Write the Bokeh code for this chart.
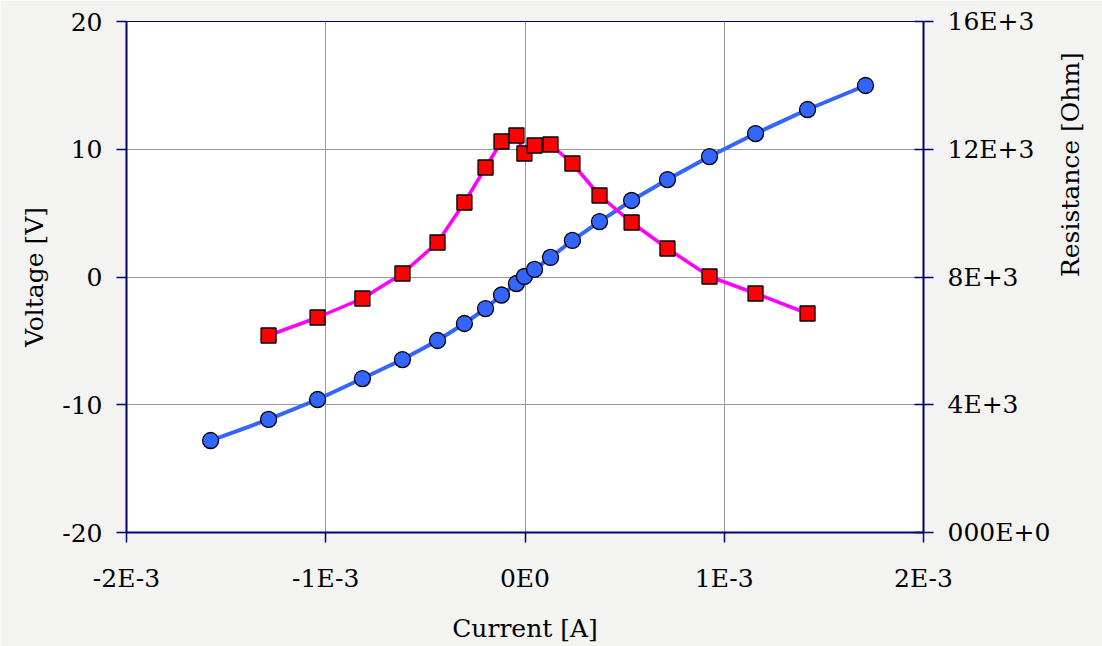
import math
from bokeh.plotting import figure
from bokeh.models import Range1d, LinearAxis, FixedTicker, ColumnDataSource
from bokeh.embed import file_html
from bokeh.resources import INLINE

# ---- data ----
current_a = [-1.578e-3, -1.287e-3, -1.041e-3, -0.816e-3, -0.615e-3, -0.439e-3, -0.304e-3,
             -0.198e-3, -0.118e-3, -0.043e-3, -0.003e-3, 0.048e-3, 0.128e-3, 0.238e-3,
             0.374e-3, 0.535e-3, 0.715e-3, 0.926e-3, 1.157e-3, 1.418e-3, 1.709e-3]
voltage_v = [-12.80, -11.15, -9.59, -7.95, -6.46, -4.97, -3.64, -2.47, -1.41, -0.51,
             0.04, 0.59, 1.53, 2.86, 4.34, 5.99, 7.63, 9.43, 11.23, 13.11, 14.99]

res_current_a = [-1.287e-3, -1.041e-3, -0.816e-3, -0.615e-3, -0.439e-3, -0.304e-3,
                 -0.198e-3, -0.118e-3, -0.043e-3, -0.003e-3, 0.048e-3, 0.128e-3, 0.238e-3,
                 0.374e-3, 0.535e-3, 0.715e-3, 0.926e-3, 1.157e-3, 1.418e-3]
resistance_ohm = [6168, 6732, 7327, 8110, 9080, 10333, 11429, 12243, 12431, 11867,
                  12118, 12149, 11554, 10552, 9707, 8893, 8016, 7483, 6857]

x_ticks = [-2e-3, -1e-3, 0.0, 1e-3, 2e-3]
x_tick_labels = ["-2E-3", "-1E-3", "0E0", "1E-3", "2E-3"]
y_ticks = [-20, -10, 0, 10, 20]
y_tick_labels = ["-20", "-10", "0", "10", "20"]
r_ticks = [0, 4000, 8000, 12000, 16000]
r_tick_labels = ["000E+0", "4E+3", "8E+3", "12E+3", "16E+3"]

FONT = "DejaVu Serif"
AXIS_COLOR = "#000070"

p = figure(width=1102, height=646, output_backend="svg", toolbar_location=None,
           x_range=Range1d(-2e-3, 2e-3), y_range=Range1d(-20, 20),
           min_border_left=126, min_border_right=179, min_border_top=21, min_border_bottom=114)
p.extra_y_ranges = {"res": Range1d(0, 16000)}

p.border_fill_color = "#f3f3f1"
p.background_fill_color = "white"
p.outline_line_color = AXIS_COLOR
p.outline_line_width = 1

def style_axis(ax, tick_in, tick_out, standoff, label_standoff):
    ax.axis_line_color = AXIS_COLOR
    ax.axis_line_width = 2
    ax.major_tick_line_color = AXIS_COLOR
    ax.major_tick_line_width = 1.5
    ax.major_tick_in = tick_in
    ax.major_tick_out = tick_out
    ax.minor_tick_line_color = None
    ax.major_label_text_font = FONT
    ax.major_label_text_font_size = "25px"
    ax.major_label_text_color = "black"
    ax.major_label_standoff = standoff
    ax.axis_label_text_font = FONT
    ax.axis_label_text_font_size = "25px"
    ax.axis_label_text_font_style = "normal"
    ax.axis_label_text_color = "black"
    ax.axis_label_standoff = label_standoff

xa = p.xaxis[0]
xa.ticker = FixedTicker(ticks=x_ticks)
xa.major_label_overrides = dict(zip(x_ticks, x_tick_labels))
xa.axis_label = "Current [A]"
style_axis(xa, 0, 10, 21, 18)

ya = p.yaxis[0]
ya.ticker = FixedTicker(ticks=y_ticks)
ya.major_label_overrides = dict(zip(y_ticks, y_tick_labels))
ya.axis_label = "Voltage [V]"
style_axis(ya, 0, 10, 14, 10)

ra = LinearAxis(y_range_name="res", axis_label="Resistance [Ohm]")
ra.ticker = FixedTicker(ticks=r_ticks)
ra.major_label_overrides = dict(zip(r_ticks, r_tick_labels))
style_axis(ra, 9, 10, 14, 17)
ra.axis_label_orientation = math.pi / 2
p.add_layout(ra, "right")

p.xgrid.ticker = FixedTicker(ticks=x_ticks)
p.ygrid.ticker = FixedTicker(ticks=y_ticks)
for g in (p.xgrid[0], p.ygrid[0]):
    g.grid_line_color = "#999999"
    g.grid_line_width = 1

vsrc = ColumnDataSource(dict(x=current_a, y=voltage_v))
rsrc = ColumnDataSource(dict(x=res_current_a, y=resistance_ohm))

p.line("x", "y", source=vsrc, line_color="#3366ff", line_width=4)
p.scatter("x", "y", source=vsrc, marker="circle", size=16, fill_color="#3366ff",
          line_color="black", line_width=1.3)

p.line("x", "y", source=rsrc, y_range_name="res", line_color="#ff00ff", line_width=3.5)
p.scatter("x", "y", source=rsrc, y_range_name="res", marker="square", size=15,
          fill_color="#ff0000", line_color="black", line_width=1.3)

open("out.html", "w").write(file_html(p, INLINE))
